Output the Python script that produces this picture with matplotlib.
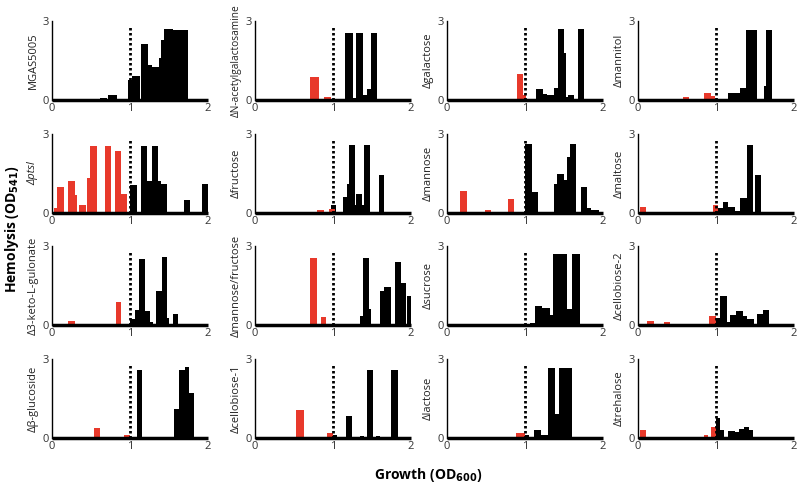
import matplotlib
matplotlib.use('Agg')
import matplotlib.pyplot as plt

plt.rcParams['font.family'] = ['Open Sans', 'DejaVu Sans']
plt.rcParams['mathtext.default'] = 'bf'

RED = '#e8392b'

# strain names, row by row
strains = ['MGAS5005', 'ΔN-acetylgalactosamine', 'Δgalactose', 'Δmannitol',
           'Δptsl', 'Δfructose', 'Δmannose', 'Δmaltose',
           'Δ3-keto-L-gulonate', 'Δmannose/fructose', 'Δsucrose', 'Δcellobiose-2',
           'Δβ-glucoside', 'Δcellobiose-1', 'Δlactose', 'Δtrehalose']

# bars as (growth from, growth to, hemolysis)
red_bars = [
    [],
    [(0.71, 0.82, 0.86), (0.88, 0.97, 0.13)],
    [(0.47, 0.57, 0.05), (0.84, 0.90, 0.05), (0.90, 0.98, 1.0), (0.98, 1.01, 0.2)],
    [(0.02, 0.11, 0.04), (0.58, 0.66, 0.1), (0.85, 0.93, 0.28), (0.93, 0.99, 0.14)],
    [(0.02, 0.07, 0.19), (0.07, 0.15, 0.97), (0.21, 0.29, 1.2), (0.29, 0.32, 0.67),
     (0.35, 0.43, 0.32), (0.45, 0.49, 1.32), (0.49, 0.58, 2.56), (0.68, 0.76, 2.56),
     (0.81, 0.89, 2.36), (0.89, 0.96, 0.73)],
    [(0.80, 0.89, 0.1), (0.95, 1.03, 0.16)],
    [(0.17, 0.25, 0.82), (0.49, 0.57, 0.13), (0.78, 0.86, 0.53)],
    [(0.02, 0.10, 0.21), (0.60, 0.69, 0.05), (0.96, 1.03, 0.31)],
    [(0.21, 0.29, 0.15), (0.82, 0.89, 0.86)],
    [(0.71, 0.80, 2.53), (0.84, 0.91, 0.32)],
    [],
    [(0.12, 0.20, 0.15), (0.33, 0.41, 0.1), (0.91, 1.0, 0.34)],
    [(0.54, 0.62, 0.38), (0.92, 1.0, 0.13)],
    [(0.53, 0.63, 1.05), (0.92, 1.0, 0.2)],
    [(0.88, 1.0, 0.2)],
    [(0.02, 0.10, 0.3), (0.50, 0.60, 0.05), (0.85, 0.90, 0.1), (0.93, 1.0, 0.42)],
]

black_bars = [
    [(0.62, 0.70, 0.09), (0.72, 0.83, 0.2), (0.98, 1.03, 0.76), (1.03, 1.13, 0.9),
     (1.14, 1.23, 2.13), (1.23, 1.28, 1.33), (1.28, 1.37, 1.27), (1.37, 1.40, 1.58),
     (1.40, 1.43, 2.28), (1.43, 1.55, 2.68), (1.55, 1.74, 2.66)],
    [(1.15, 1.26, 2.55), (1.26, 1.29, 0.08), (1.29, 1.38, 2.55), (1.38, 1.43, 0.2),
     (1.43, 1.49, 0.4), (1.49, 1.57, 2.55)],
    [(1.14, 1.23, 0.41), (1.23, 1.28, 0.23), (1.28, 1.37, 0.2), (1.37, 1.42, 0.45),
     (1.42, 1.50, 2.68), (1.50, 1.52, 1.8), (1.52, 1.55, 0.1), (1.55, 1.63, 0.2),
     (1.68, 1.75, 2.68)],
    [(1.16, 1.24, 0.28), (1.24, 1.31, 0.26), (1.31, 1.39, 0.47), (1.39, 1.52, 2.64),
     (1.61, 1.64, 0.54), (1.64, 1.72, 2.64)],
    [(1.0, 1.09, 1.05), (1.14, 1.22, 2.56), (1.22, 1.28, 1.22), (1.28, 1.36, 2.56),
     (1.36, 1.40, 1.22), (1.40, 1.47, 1.1), (1.69, 1.77, 0.5), (1.92, 2.0, 1.1)],
    [(0.97, 1.04, 0.29), (1.13, 1.18, 0.6), (1.18, 1.21, 1.1), (1.21, 1.28, 2.57),
     (1.28, 1.30, 0.3), (1.30, 1.37, 0.72), (1.37, 1.40, 0.3), (1.40, 1.48, 2.57),
     (1.59, 1.66, 1.46)],
    [(1.0, 1.09, 2.62), (1.09, 1.17, 0.8), (1.37, 1.43, 1.12), (1.41, 1.50, 1.49),
     (1.50, 1.54, 1.24), (1.54, 1.58, 2.13), (1.58, 1.66, 2.62), (1.72, 1.79, 0.99),
     (1.79, 1.85, 0.19), (1.85, 1.95, 0.11)],
    [(1.03, 1.09, 0.18), (1.09, 1.16, 0.4), (1.16, 1.24, 0.21), (1.24, 1.31, 0.06),
     (1.31, 1.40, 0.56), (1.40, 1.48, 2.6), (1.50, 1.58, 1.44)],
    [(1.0, 1.06, 0.23), (1.06, 1.12, 0.57), (1.12, 1.19, 2.52), (1.19, 1.25, 0.54),
     (1.25, 1.30, 0.13), (1.33, 1.41, 1.28), (1.41, 1.48, 2.58), (1.48, 1.50, 0.26),
     (1.55, 1.62, 0.41)],
    [(1.34, 1.38, 0.35), (1.38, 1.46, 2.53), (1.46, 1.49, 0.59), (1.60, 1.66, 1.29),
     (1.66, 1.74, 1.46), (1.80, 1.87, 2.4), (1.87, 1.93, 1.6), (1.95, 2.0, 1.1)],
    [(0.0, 0.20, 0.03), (0.25, 0.32, 0.05), (0.55, 0.72, 0.05), (1.07, 1.13, 0.08),
     (1.13, 1.22, 0.72), (1.22, 1.32, 0.66), (1.32, 1.36, 0.39), (1.36, 1.54, 2.7),
     (1.54, 1.60, 0.62), (1.60, 1.71, 2.7)],
    [(0.83, 0.91, 0.02), (1.0, 1.05, 0.25), (1.05, 1.14, 1.1), (1.14, 1.18, 0.13),
     (1.18, 1.26, 0.38), (1.26, 1.34, 0.54), (1.34, 1.40, 0.34), (1.40, 1.49, 0.22),
     (1.52, 1.60, 0.4), (1.60, 1.68, 0.57)],
    [(1.09, 1.16, 2.6), (1.20, 1.45, 0.04), (1.56, 1.63, 1.1), (1.63, 1.70, 2.6),
     (1.70, 1.76, 2.7), (1.76, 1.82, 1.7)],
    [(1.0, 1.05, 0.1), (1.17, 1.25, 0.85), (1.35, 1.40, 0.08), (1.43, 1.51, 2.6),
     (1.55, 1.60, 0.08), (1.75, 1.83, 2.6)],
    [(0.0, 0.60, 0.04), (1.0, 1.05, 0.12), (1.12, 1.20, 0.3), (1.20, 1.30, 0.1),
     (1.30, 1.38, 2.65), (1.38, 1.43, 0.9), (1.43, 1.60, 2.65), (1.60, 1.65, 0.05)],
    [(1.0, 1.05, 0.75), (1.05, 1.10, 0.3), (1.15, 1.24, 0.28), (1.24, 1.30, 0.22),
     (1.30, 1.36, 0.35), (1.36, 1.42, 0.4), (1.42, 1.47, 0.32)],
]

fig = plt.figure(figsize=(8, 4.87), dpi=100)

col_left = [52, 255, 447, 638]
row_bottom = [100, 213, 325, 438]
W, H = 156, 79

for i, name in enumerate(strains):
    r, c = divmod(i, 4)
    ax = fig.add_axes([col_left[c] / 800, 1 - row_bottom[r] / 487, W / 800, H / 487])

    for bars, color in [(black_bars[i], 'black'), (red_bars[i], RED)]:
        if bars:
            lefts = [b[0] for b in bars]
            widths = [b[1] - b[0] for b in bars]
            heights = [b[2] for b in bars]
            ax.bar(lefts, heights, width=widths, align='edge', color=color,
                   edgecolor='none', linewidth=0)

    ax.vlines(1, 0, 2.85, colors='black', linestyles=(0, (0.9, 0.9)), lw=2)

    ax.set_xlim(0, 2)
    ax.set_ylim(0, 3)
    ax.set_xticks([0, 1, 2])
    ax.set_yticks([0, 3])
    ax.tick_params(length=0, labelsize=8, pad=2, colors='#333333')
    for s in ['top', 'right']:
        ax.spines[s].set_visible(False)
    ax.spines['left'].set_linewidth(1.0)
    ax.spines['bottom'].set_linewidth(2.5)
    ax.spines['bottom'].set_capstyle('butt')

    style = 'italic' if name == 'Δptsl' else 'normal'
    size = 7.3 if len(name) > 20 else 8
    ax.set_ylabel(name, fontsize=size, labelpad=3, style=style, color='#222222')
    ax.patch.set_alpha(0)

fig.text(0.015, 0.53, 'Hemolysis (OD$_{541}$)', rotation=90, fontsize=10,
         fontweight='bold', ha='center', va='center')
fig.text(0.535, 0.025, 'Growth (OD$_{600}$)', fontsize=10, fontweight='bold',
         ha='center', va='center')

fig.savefig('out.png', dpi=100)
